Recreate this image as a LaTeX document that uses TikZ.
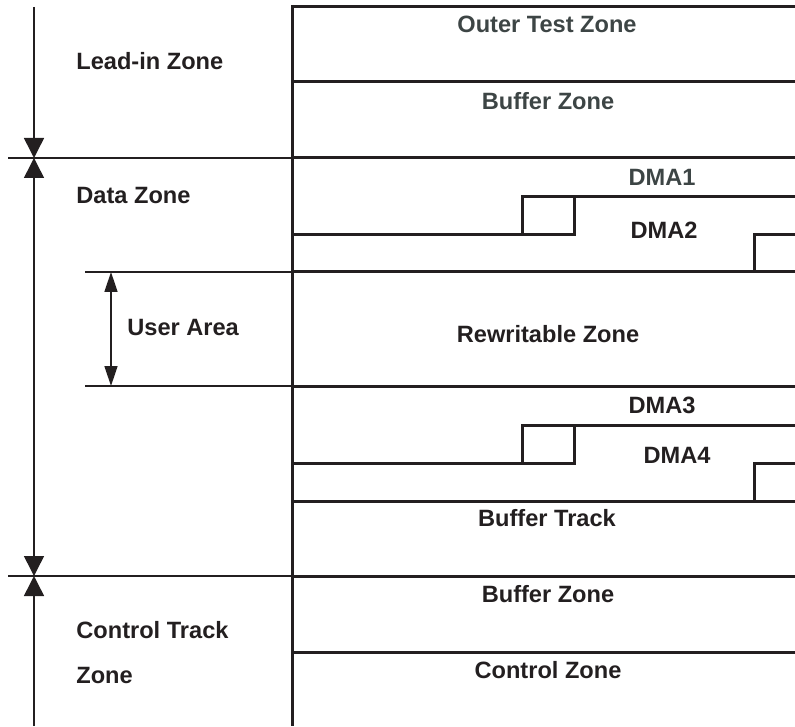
\documentclass[tikz,border=0pt]{standalone}
\usepackage{fontspec}
\setmainfont{Liberation Sans}
\usetikzlibrary{arrows.meta,positioning}
\definecolor{ink}{HTML}{231F20}
\definecolor{grau}{HTML}{3D4545}
\tikzset{
    %Define standard arrow tip
    >={Triangle[length=10pt,width=10pt]},
    %Define style for zone labels
    zone/.style={
           font=\fontsize{11.8}{14}\selectfont\bfseries,
           text=ink,
           inner sep=0pt},
    % Define style for the thick track lines
    spur/.style={
           draw=ink,
           line width=1.5pt},
    % Define style for the thin marker lines
    duenn/.style={
           draw=ink,
           line width=0.75pt},
    % Define arrow style
    pil/.style={
           <->,
           duenn}
}
\begin{document}
\begin{tikzpicture}[x=0.5pt,y=-0.5pt]
  \useasboundingbox (0,0) rectangle (795,726);
  % axis points
  \coordinate (top) at (34,7);
  \coordinate (in) at (34,158);
  \coordinate (ct) at (34,576);
  \coordinate (bot) at (34,726);
  \coordinate (ua1) at (111,272);
  \coordinate (ua2) at (111,386);
  % left markers
  \draw[duenn,->] (top) -- (in);
  \draw[pil] (in) -- (ct);
  \draw[duenn,->] (bot) -- (ct);
  \draw[pil,>={Triangle[length=10pt,width=6.5pt]}] (ua1) -- (ua2);
  \draw[duenn] (8,158) -- (292,158);
  \draw[duenn] (8,576) -- (292,576);
  \draw[duenn] (85,272) -- (292,272);
  \draw[duenn] (85,386) -- (292,386);
  % tracks
  \draw[spur] (292,5) -- (292,726);
  \foreach \y in {7,82,158,272,386,501,576,652}
    \draw[spur] (292,\y) -- (795,\y);
  \foreach \o in {0,228} {
    \draw[spur] (292,235+\o) -- (522,235+\o) -- (522,197+\o) -- (795,197+\o);
    \draw[spur] (522,235+\o) -- (574,235+\o) -- (574,197+\o);
    \draw[spur] (754,272+\o) -- (754,235+\o) -- (795,235+\o);
  }
  % labels
  \node[zone,anchor=west] (leadin) at (76,61) {Lead-in Zone};
  \node[zone,anchor=west] (data) at (76,195) {Data Zone};
  \node[zone,anchor=west] (user) at (127,327) {User Area};
  \node[zone,anchor=west] (ctrack) at (76,630) {Control Track};
  \node[zone,anchor=west] (ctzone) at (76,675) {Zone};
  \node[zone,text=grau] (outer) at (547,24) {Outer Test Zone};
  \node[zone,text=grau] (buf1) at (548,101) {Buffer Zone};
  \node[zone,text=grau] (dma1) at (662,177) {DMA1};
  \node[zone] (dma2) at (664,230) {DMA2};
  \node[zone] (rewr) at (548,334) {Rewritable Zone};
  \node[zone] (dma3) at (662,405) {DMA3};
  \node[zone] (dma4) at (677,455) {DMA4};
  \node[zone] (btrack) at (547,518) {Buffer Track};
  \node[zone] (buf2) at (548,594) {Buffer Zone};
  \node[zone] (ctrl) at (548,670) {Control Zone};
\end{tikzpicture}
\end{document}
